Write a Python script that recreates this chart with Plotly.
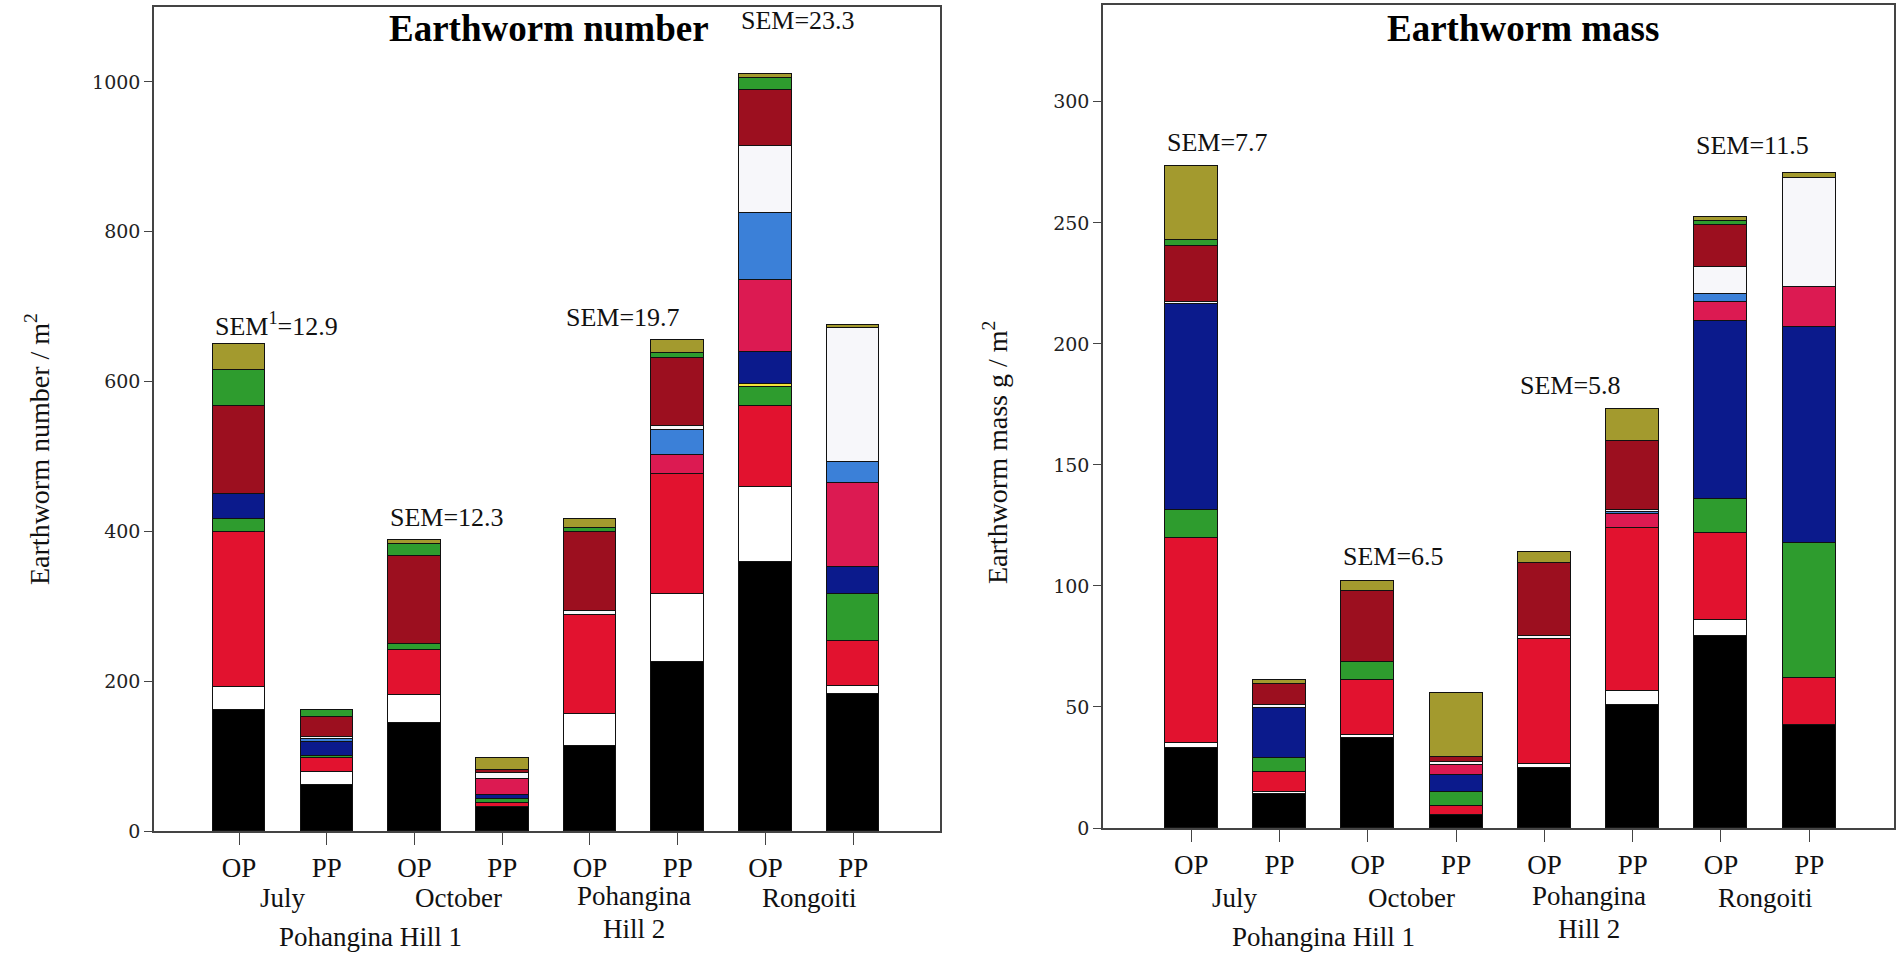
import plotly.graph_objects as go

# ---------------- data ----------------
bar_labels = ["OP", "PP", "OP", "PP", "OP", "PP", "OP", "PP"]
group_labels = ["July", "October", "Pohangina<br>Hill 2", "Rongoiti"]
site_label = "Pohangina Hill 1"

series_names = ["black", "white", "red", "green", "yellow", "navy",
                "pink", "lightblue", "white2", "darkred", "green2", "olive"]
series_colors = ["#000000", "#ffffff", "#e2122f", "#2e9c2e", "#f2e43a", "#0b1a8c",
                 "#dc1a52", "#3b80d8", "#f7f7fa", "#9c0f1f", "#2e9c2e", "#a39a2e"]

# Earthworm number / m2 (bars: July OP, July PP, Oct OP, Oct PP, Hill2 OP, Hill2 PP, Rong OP, Rong PP)
num_black     = [162, 61, 144, 32, 114, 225, 359, 183]
num_white     = [30, 18, 38, 0, 42, 91, 100, 11]
num_red       = [207, 18, 59, 6, 133, 161, 108, 59]
num_green     = [18, 3, 9, 5, 0, 0, 26, 63]
num_yellow    = [0, 0, 0, 0, 0, 0, 4, 0]
num_navy      = [33, 19, 0, 5, 0, 0, 42, 36]
num_pink      = [0, 0, 0, 22, 0, 25, 96, 113]
num_lightblue = [0, 3.5, 0, 0, 0, 33, 90, 27]
num_white2    = [0, 3, 0, 7, 5, 5, 90, 179]
num_darkred   = [118, 27, 117, 4, 105, 92, 74, 0]
num_green2    = [48, 9.5, 16, 0, 6, 6, 16, 0]
num_olive     = [34, 0, 6, 16, 11, 17, 5, 5]

# Earthworm mass g / m2
mass_black     = [33, 14, 37, 5.2, 24.8, 51, 79.2, 42.7]
mass_white     = [2, 1, 1.4, 0, 1.5, 5.5, 6.6, 0]
mass_red       = [85, 8, 22.6, 3.8, 51.7, 67.4, 36.1, 19.1]
mass_green     = [11.5, 6, 7.4, 5.9, 0, 0, 14.2, 55.8]
mass_yellow    = [0, 0, 0, 0, 0, 0, 0, 0]
mass_navy      = [85, 20.5, 0, 6.9, 0, 0, 73.5, 89.5]
mass_pink      = [0, 0, 0, 4.2, 0, 5.7, 7.9, 16.3]
mass_lightblue = [0, 0, 0, 0, 0, 0.8, 3.0, 0]
mass_white2    = [1, 1.5, 0, 1.3, 1.2, 0.8, 11.2, 45]
mass_darkred   = [23, 8.5, 29.5, 2.0, 30.1, 28.6, 17.3, 0]
mass_green2    = [2.3, 0, 0, 0, 0, 0, 1.6, 0]
mass_olive     = [30.5, 1.8, 4.3, 26.6, 4.9, 13.4, 1.8, 2.3]

num_sem_text = ["SEM<sup>1</sup>=12.9", "SEM=12.3", "SEM=19.7", "SEM=23.3"]
num_sem_bar = [0, 2, 4, 6]
num_sem_y = [676, 419, 686, 1082]
mass_sem_text = ["SEM=7.7", "SEM=6.5", "SEM=5.8", "SEM=11.5"]
mass_sem_bar = [0, 2, 4, 6]
mass_sem_y = [283, 112, 183, 282]

num_series = [num_black, num_white, num_red, num_green, num_yellow, num_navy,
              num_pink, num_lightblue, num_white2, num_darkred, num_green2, num_olive]
mass_series = [mass_black, mass_white, mass_red, mass_green, mass_yellow, mass_navy,
               mass_pink, mass_lightblue, mass_white2, mass_darkred, mass_green2, mass_olive]

# ---------------- figure ----------------
W, H = 1903, 955
xpos = list(range(len(bar_labels)))
fig = go.Figure()

def add_stack(series, xa, ya):
    for name, color, vals in zip(series_names, series_colors, series):
        fig.add_trace(go.Bar(
            x=xpos, y=[v if v else None for v in vals], name=name,
            marker=dict(color=color, line=dict(color="#111111", width=1)),
            width=0.6, xaxis=xa, yaxis=ya, showlegend=False,
        ))

add_stack(num_series, "x", "y")
add_stack(mass_series, "x2", "y2")

serif = "Liberation Serif"
tickfont_y = dict(family="DejaVu Serif", size=19, color="#222222")
tickfont_x = dict(family=serif, size=27, color="#111111")
axis_common = dict(showline=True, linecolor="#444444", linewidth=1.5, mirror=True,
                   showgrid=False, zeroline=False, ticks="outside", tickcolor="#444444",
                   automargin=False)

def px_x(p):
    return p / W

def px_y(p):
    return 1 - p / H

fig.update_layout(
    width=W, height=H, margin=dict(l=0, r=0, t=0, b=0, autoexpand=False),
    paper_bgcolor="white", plot_bgcolor="white", barmode="stack", bargap=0,
    xaxis=dict(domain=[px_x(154), px_x(940)], range=[-0.97, 7.99], tickvals=xpos,
               ticktext=bar_labels, ticklen=12, tickfont=tickfont_x, anchor="y", **axis_common),
    yaxis=dict(domain=[px_y(831), px_y(7)], range=[0, 1100], tickvals=[0, 200, 400, 600, 800, 1000],
               ticklen=8, tickfont=tickfont_y, anchor="x", **axis_common),
    xaxis2=dict(domain=[px_x(1103), px_x(1894)], range=[-1.0, 7.96], tickvals=xpos,
                ticktext=bar_labels, ticklen=12, tickfont=tickfont_x, anchor="y2", **axis_common),
    yaxis2=dict(domain=[px_y(828), px_y(5)], range=[0, 340], tickvals=[0, 50, 100, 150, 200, 250, 300],
                ticklen=8, tickfont=tickfont_y, anchor="x2", **axis_common),
)

ann = []
def A(**kw):
    kw.setdefault("xanchor", "center")
    kw.setdefault("yanchor", "middle")
    kw.setdefault("showarrow", False)
    ann.append(kw)

label_font = dict(family=serif, size=27, color="#111111")

# titles
A(text="<b>Earthworm number</b>", x=px_x(549), y=px_y(29), xref="paper", yref="paper",
  font=dict(family=serif, size=37, color="#000000"))
A(text="<b>Earthworm mass</b>", x=px_x(1523), y=px_y(29), xref="paper", yref="paper",
  font=dict(family=serif, size=37, color="#000000"))
# y-axis titles
A(text="Earthworm number / m<sup>2</sup>", x=px_x(37), y=px_y(449), xref="paper", yref="paper",
  textangle=-90, font=dict(family=serif, size=28, color="#111111"))
A(text="Earthworm mass g / m<sup>2</sup>", x=px_x(995), y=px_y(452), xref="paper", yref="paper",
  textangle=-90, font=dict(family=serif, size=28, color="#111111"))

# group labels under the axes
for xr in ["x", "x2"]:
    for i, g in enumerate(group_labels):
        lines = g.split("<br>")
        if len(lines) == 2:
            A(text=lines[0], x=2 * i + 0.5, y=px_y(896), xref=xr, yref="paper", font=label_font)
            A(text=lines[1], x=2 * i + 0.5, y=px_y(929), xref=xr, yref="paper", font=label_font)
        else:
            A(text=g, x=2 * i + 0.5, y=px_y(898), xref=xr, yref="paper", font=label_font)
    A(text=site_label, x=1.5, y=px_y(937), xref=xr, yref="paper", font=label_font)

# SEM labels
for t, b, yv in zip(num_sem_text, num_sem_bar, num_sem_y):
    A(text=t, x=b - 0.3, y=yv, xref="x", yref="y", xanchor="left",
      font=dict(family=serif, size=26, color="#111111"))
for t, b, yv in zip(mass_sem_text, mass_sem_bar, mass_sem_y):
    A(text=t, x=b - 0.3, y=yv, xref="x2", yref="y2", xanchor="left",
      font=dict(family=serif, size=26, color="#111111"))

fig.update_layout(annotations=ann)
fig.write_html("out.html")
